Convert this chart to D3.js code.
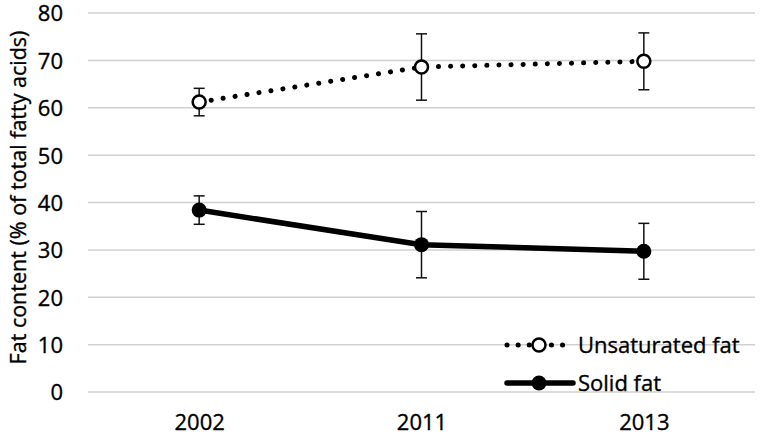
<!DOCTYPE html>
<html>
<head>
<meta charset="utf-8">
<script src="https://cdn.jsdelivr.net/npm/d3@7"></script>
<style>
  body { margin: 0; background: #fff; }
  svg text { font-family: 'Open Sans', sans-serif; fill: #000; stroke: #000; stroke-width: 0.35px; }
</style>
</head>
<body>
<svg id="chart" width="760" height="440"></svg>
<script>
const years = ['2002', '2011', '2013'];
const unsatMean = [61.2, 68.6, 69.8];
const unsatErr = [2.9, 7.0, 6.0];
const solidMean = [38.4, 31.1, 29.7];
const solidErr = [3.0, 7.0, 5.9];
const yTicks = [0, 10, 20, 30, 40, 50, 60, 70, 80];

const svg = d3.select('#chart');
const margin = { left: 88, right: 5, top: 13, bottom: 48 };
const width = 760, height = 440;

const x = d3.scalePoint().domain(years).range([margin.left, width - margin.right]).padding(0.5);
const y = d3.scaleLinear().domain([0, 80]).range([height - margin.bottom, margin.top]);

// gridlines
svg.append('g')
  .selectAll('line')
  .data(yTicks)
  .join('line')
  .attr('x1', margin.left).attr('x2', width - margin.right)
  .attr('y1', d => y(d)).attr('y2', d => y(d))
  .attr('stroke', '#d0d0d0').attr('stroke-width', 1.5);

// y axis labels
const yAxis = svg.append('g')
  .attr('transform', `translate(${margin.left - 8},0)`)
  .call(d3.axisLeft(y).tickValues(yTicks).tickSize(0).tickPadding(17));
yAxis.select('.domain').remove();
yAxis.selectAll('text').style('font-size', '22px').attr('font-family', null).attr('dy', '0.36em');

// x axis labels
const xAxis = svg.append('g')
  .attr('transform', `translate(0,${height - margin.bottom})`)
  .call(d3.axisBottom(x).tickSize(0).tickPadding(22));
xAxis.select('.domain').remove();
xAxis.selectAll('text').style('font-size', '22px').attr('font-family', null);

// y title
svg.append('text')
  .attr('transform', `translate(20,${y(40) - 5}) rotate(-90)`)
  .attr('text-anchor', 'middle')
  .attr('dominant-baseline', 'middle')
  .style('font-size', '21.5px')
  .text('Fat content (% of total fatty acids)');

function series(mean, err, opts) {
  const g = svg.append('g');
  const pts = years.map((yr, i) => ({ yr, v: mean[i], e: err[i] }));
  // error bars
  const eb = g.selectAll('g.eb').data(pts).join('g');
  eb.append('line')
    .attr('x1', d => x(d.yr)).attr('x2', d => x(d.yr))
    .attr('y1', d => y(d.v + d.e)).attr('y2', d => y(d.v - d.e))
    .attr('stroke', '#111').attr('stroke-width', 1.5);
  [1, -1].forEach(s => {
    eb.append('line')
      .attr('x1', d => x(d.yr) - 5.5).attr('x2', d => x(d.yr) + 5.5)
      .attr('y1', d => y(d.v + s * d.e)).attr('y2', d => y(d.v + s * d.e))
      .attr('stroke', '#111').attr('stroke-width', 1.5);
  });
  // line
  g.append('path')
    .datum(pts)
    .attr('d', d3.line().x(d => x(d.yr)).y(d => y(d.v)))
    .attr('fill', 'none')
    .attr('stroke', '#000')
    .attr('stroke-width', opts.lw)
    .attr('stroke-linecap', 'round')
    .attr('stroke-dasharray', opts.dash);
  g.selectAll('circle').data(pts).join('circle')
    .attr('cx', d => x(d.yr)).attr('cy', d => y(d.v))
    .attr('r', opts.r)
    .attr('fill', opts.fill)
    .attr('stroke', '#000').attr('stroke-width', opts.sw);
}

const unsatStyle = { lw: 5, dash: '0.1,12', r: 6.5, fill: '#fff', sw: 2.5 };
const solidStyle = { lw: 5.5, dash: null, r: 7.5, fill: '#000', sw: 0 };
series(unsatMean, unsatErr, unsatStyle);
series(solidMean, solidErr, solidStyle);

// legend
const legendItems = [
  { label: 'Unsaturated fat', style: unsatStyle, cy: 345 },
  { label: 'Solid fat', style: solidStyle, cy: 383 }
];
const lg = svg.append('g');
legendItems.forEach(it => {
  lg.append('line')
    .attr('x1', 507).attr('x2', 573)
    .attr('y1', it.cy).attr('y2', it.cy)
    .attr('stroke', '#000')
    .attr('stroke-width', it.style.lw)
    .attr('stroke-linecap', 'round')
    .attr('stroke-dasharray', it.style.dash ? '0.1,11' : null);
  lg.append('circle')
    .attr('cx', 539).attr('cy', it.cy)
    .attr('r', it.style.r)
    .attr('fill', it.style.fill)
    .attr('stroke', '#000').attr('stroke-width', it.style.sw);
  lg.append('text')
    .attr('x', 578).attr('y', it.cy)
    .attr('dy', '0.36em')
    .style('font-size', '22px')
    .text(it.label);
});
</script>
</body>
</html>
